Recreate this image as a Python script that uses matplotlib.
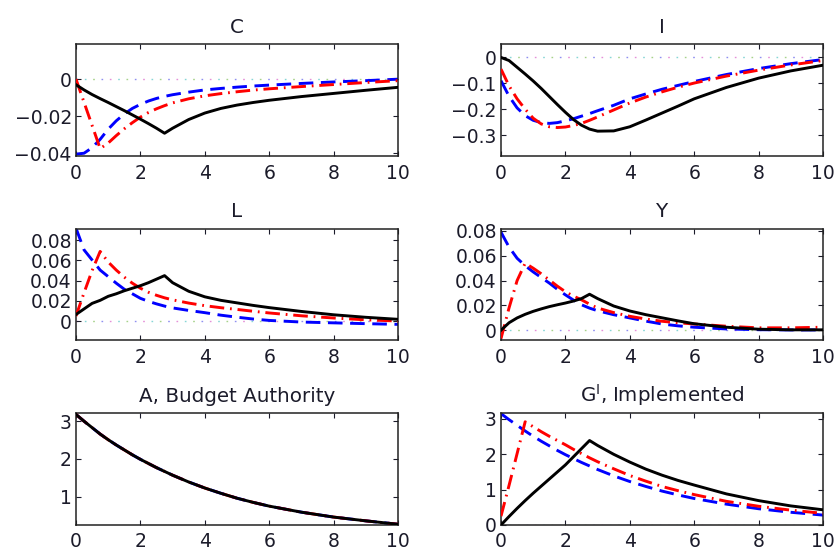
import matplotlib
matplotlib.use("Agg")
import matplotlib.pyplot as plt

plt.rcParams['font.family'] = ['DejaVu Sans']
plt.rcParams['mathtext.fontset'] = 'dejavusans'

# time axis (years)
t = [0, 0.25, 0.5, 0.75, 1, 1.25, 1.5, 1.75, 2, 2.25, 2.5, 2.75, 3, 3.5, 4, 4.5, 5, 5.5, 6, 7, 8, 9, 10]

# C
C_black = [-0.003, -0.0058, -0.0083, -0.0105, -0.0126, -0.0148, -0.0170, -0.0193, -0.0216, -0.0240, -0.0265, -0.0292,
           -0.0265, -0.0218, -0.0183, -0.0158, -0.0140, -0.0126, -0.0114, -0.0094, -0.0077, -0.0060, -0.0044]
C_blue = [-0.0405, -0.0400, -0.0370, -0.0325, -0.0270, -0.0225, -0.0188, -0.0158, -0.0136, -0.0118, -0.0104, -0.0093,
          -0.0084, -0.0070, -0.0058, -0.0050, -0.0043, -0.0037, -0.0032, -0.0023, -0.0015, -0.0008, 0.0]
C_red = [0.0, -0.0125, -0.025, -0.0375, -0.0345, -0.0305, -0.0268, -0.0235, -0.0205, -0.0180, -0.0160, -0.0143,
         -0.0128, -0.0106, -0.0090, -0.0078, -0.0068, -0.0059, -0.0052, -0.0040, -0.0029, -0.0018, -0.0008]

# I
I_black = [0.0, -0.012, -0.038, -0.064, -0.091, -0.120, -0.151, -0.182, -0.212, -0.240, -0.262, -0.277,
           -0.285, -0.284, -0.268, -0.242, -0.215, -0.188, -0.160, -0.116, -0.080, -0.052, -0.030]
I_blue = [-0.090, -0.150, -0.195, -0.225, -0.243, -0.252, -0.255, -0.252, -0.245, -0.237, -0.227, -0.217,
          -0.206, -0.185, -0.160, -0.141, -0.123, -0.108, -0.093, -0.066, -0.043, -0.024, -0.008]
I_red = [-0.045, -0.110, -0.160, -0.200, -0.235, -0.257, -0.268, -0.271, -0.269, -0.263, -0.255, -0.243,
         -0.230, -0.203, -0.176, -0.153, -0.133, -0.115, -0.099, -0.072, -0.049, -0.029, -0.012]

# L
L_black = [0.0065, 0.012, 0.0175, 0.0205, 0.0245, 0.027, 0.030, 0.0325, 0.035, 0.038, 0.0415, 0.045,
           0.038, 0.0295, 0.0240, 0.0205, 0.0180, 0.0155, 0.0133, 0.0095, 0.0062, 0.0037, 0.0017]
L_blue = [0.092, 0.0705, 0.0605, 0.0505, 0.0440, 0.0375, 0.0315, 0.027, 0.0225, 0.0195, 0.017, 0.0148,
          0.0130, 0.0105, 0.0083, 0.0058, 0.0038, 0.0020, 0.0006, -0.0010, -0.0018, -0.0026, -0.0033]
L_red = [0.005, 0.028, 0.050, 0.069, 0.0585, 0.0505, 0.0435, 0.0375, 0.0325, 0.0285, 0.0255, 0.0230,
         0.0210, 0.0178, 0.0152, 0.0132, 0.0115, 0.0097, 0.0080, 0.0052, 0.0030, 0.0012, 0.0]

# Y
Y_black = [0.0, 0.006, 0.0099, 0.0128, 0.0152, 0.0172, 0.0190, 0.0205, 0.0219, 0.0235, 0.0255, 0.029,
           0.0255, 0.0195, 0.0155, 0.0125, 0.0100, 0.0075, 0.0052, 0.0024, 0.0008, 0.0003, 0.0003]
Y_blue = [0.079, 0.067, 0.058, 0.052, 0.047, 0.0425, 0.038, 0.033, 0.0285, 0.0243, 0.0205, 0.0178,
          0.0157, 0.0125, 0.0099, 0.0073, 0.0050, 0.0035, 0.0024, 0.0010, 0.0004, 0.0002, 0.0002]
Y_red = [-0.0067, 0.018, 0.040, 0.054, 0.050, 0.0455, 0.0405, 0.0355, 0.031, 0.0275, 0.0245, 0.0210,
         0.0179, 0.0142, 0.0112, 0.0090, 0.0072, 0.0060, 0.0050, 0.0032, 0.0019, 0.0019, 0.0024]

# A, Budget Authority (all three cases coincide)
A_black = [3.18, 3.00, 2.83, 2.66, 2.51, 2.37, 2.24, 2.11, 1.99, 1.88, 1.77, 1.67,
           1.57, 1.39, 1.23, 1.09, 0.96, 0.85, 0.75, 0.59, 0.46, 0.36, 0.27]
A_blue = [3.18, 3.00, 2.83, 2.66, 2.51, 2.37, 2.24, 2.11, 1.99, 1.88, 1.77, 1.67,
          1.57, 1.39, 1.23, 1.09, 0.96, 0.85, 0.75, 0.59, 0.46, 0.36, 0.27]
A_red = [3.18, 3.00, 2.83, 2.66, 2.51, 2.37, 2.24, 2.11, 1.99, 1.88, 1.77, 1.67,
         1.57, 1.39, 1.23, 1.09, 0.96, 0.85, 0.75, 0.59, 0.46, 0.36, 0.27]

# G^I, Implemented
G_black = [0.0, 0.24, 0.47, 0.69, 0.90, 1.10, 1.30, 1.50, 1.70, 1.93, 2.16, 2.39,
           2.25, 2.00, 1.78, 1.58, 1.41, 1.26, 1.13, 0.88, 0.69, 0.54, 0.43]
G_blue = [3.15, 2.98, 2.82, 2.66, 2.51, 2.37, 2.24, 2.11, 1.99, 1.88, 1.77, 1.67,
          1.57, 1.39, 1.23, 1.09, 0.96, 0.85, 0.75, 0.59, 0.46, 0.36, 0.28]
G_red = [0.25, 1.12, 2.02, 2.92, 2.78, 2.64, 2.51, 2.39, 2.27, 2.14, 2.02, 1.90,
         1.79, 1.59, 1.40, 1.24, 1.09, 0.97, 0.86, 0.67, 0.53, 0.42, 0.33]

titles = ['C', 'I', 'L', 'Y', 'A, Budget Authority', r'G$^{\mathrm{I}}$, Implemented']
xticks = [0, 2, 4, 6, 8, 10]
yticks = [[-0.04, -0.02, 0], [-0.3, -0.2, -0.1, 0], [0, 0.02, 0.04, 0.06, 0.08],
          [0, 0.02, 0.04, 0.06, 0.08], [1, 2, 3], [0, 1, 2, 3]]
yticklabels = [['\u22120.04', '\u22120.02', '0'], ['\u22120.3', '\u22120.2', '\u22120.1', '0'],
               ['0', '0.02', '0.04', '0.06', '0.08'], ['0', '0.02', '0.04', '0.06', '0.08'],
               ['1', '2', '3'], ['0', '1', '2', '3']]
ylims = [(-0.0415, 0.019), (-0.381, 0.052), (-0.0183, 0.0917), (-0.0075, 0.082), (0.25, 3.21), (0.0, 3.16)]

series = [(C_blue, C_red, C_black), (I_blue, I_red, I_black), (L_blue, L_red, L_black),
          (Y_blue, Y_red, Y_black), (A_blue, A_red, A_black), (G_blue, G_red, G_black)]

W, H = 839, 551
fig = plt.figure(figsize=(W / 100, H / 100), dpi=100)
lefts = [76, 501]
rows = [(44, 156), (228.5, 339.5), (413.3, 525)]
axw = 322

zero_colors = ['#e58fd8', '#8f8ff0', '#a6d28a', '#86d6d6']
txtc = '#1b1b2a'

for k in range(6):
    r, c = divmod(k, 2)
    top, bot = rows[r]
    ax = fig.add_axes([lefts[c] / W, 1 - bot / H, axw / W, (bot - top) / H])
    # dotted zero line
    for j, zc in enumerate(zero_colors):
        ax.plot([0, 10], [0, 0], color=zc, lw=1.0, linestyle=(j * 6.0, (1.2, 22.8)), zorder=1)
    b, rd, bk = series[k]
    ax.plot(t, b, color='#0000ff', lw=2.1, linestyle=(0, (5.0, 2.6)), zorder=2)
    ax.plot(t, rd, color='#ff0000', lw=2.1, linestyle=(0, (5.0, 2.0, 0.6, 2.0)), zorder=3)
    ax.plot(t, bk, color='black', lw=2.1, zorder=4)
    ax.set_xlim(0, 10)
    ax.set_ylim(*ylims[k])
    ax.set_xticks(xticks)
    ax.set_xticklabels([str(v) for v in xticks])
    ax.set_yticks(yticks[k])
    ax.set_yticklabels(yticklabels[k])
    ax.tick_params(direction='in', top=True, right=True, length=3.5, width=0.8,
                   labelsize=13.5, colors=txtc, labelcolor=txtc)
    ax.tick_params(axis='x', pad=6 if r < 2 else 5)
    ax.tick_params(axis='y', pad=3)
    for s in ax.spines.values():
        s.set_linewidth(1.1)
        s.set_color('#222222')
    ax.set_title(titles[k], fontsize=14.3, color=txtc, pad=8)

fig.savefig('out.png', dpi=100)
